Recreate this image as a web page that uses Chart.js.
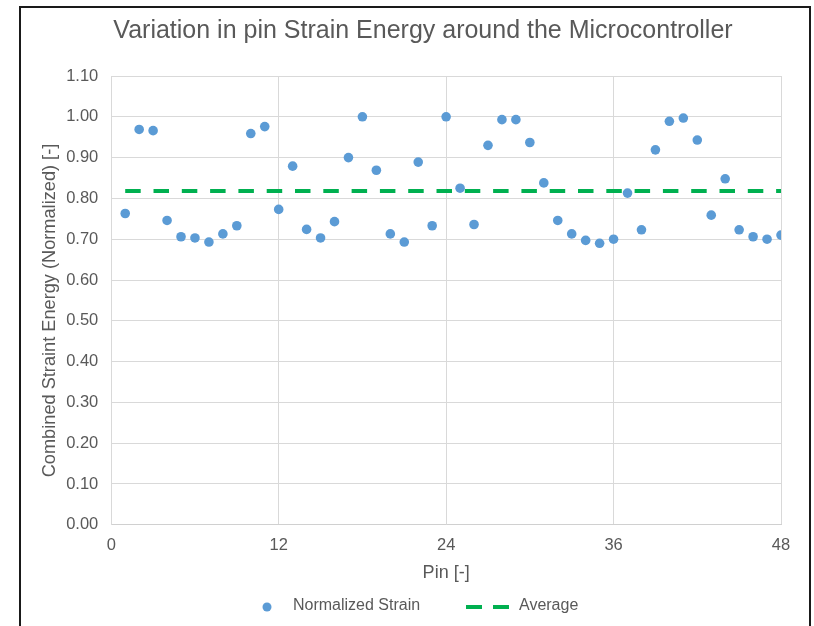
<!DOCTYPE html>
<html>
<head>
<meta charset="utf-8">
<script src="https://cdn.jsdelivr.net/npm/chart.js@4.4.1/dist/chart.umd.min.js"></script>
<style>
  html, body { margin: 0; padding: 0; background: #ffffff; }
  #wrap { position: absolute; left: 0; top: 0; width: 814px; height: 626px; }
</style>
</head>
<body>
<div id="wrap"><canvas id="c" width="814" height="626"></canvas></div>
<script>
// ---- data ----
const pins = [1,2,3,4,5,6,7,8,9,10,11,12,13,14,15,16,17,18,19,20,21,22,23,24,
              25,26,27,28,29,30,31,32,33,34,35,36,37,38,39,40,41,42,43,44,45,46,47,48];
const normalizedStrain = [0.763,0.969,0.966,0.746,0.706,0.703,0.693,0.713,0.733,0.959,0.976,0.773,
                          0.879,0.724,0.703,0.743,0.900,1.000,0.869,0.713,0.693,0.889,0.733,1.000,
                          0.825,0.736,0.930,0.993,0.993,0.937,0.838,0.746,0.713,0.697,0.690,0.700,
                          0.813,0.723,0.919,0.989,0.997,0.943,0.759,0.848,0.723,0.706,0.700,0.710];
const averagePins = [1, 48];
const averageValues = [0.818, 0.818];
const xTickValues = [0, 12, 24, 36, 48];
const yTickValues = [0.00,0.10,0.20,0.30,0.40,0.50,0.60,0.70,0.80,0.90,1.00,1.10];
const seriesNames = ['Normalized Strain', 'Average'];
const chartTitle = 'Variation in pin Strain Energy around the Microcontroller';
const xTitle = 'Pin [-]';
const yTitle = 'Combined Straint Energy (Normalized) [-]';

const FONT = "'Liberation Sans', Arial, sans-serif";
const TXT = '#595959';
const BLUE = '#5B9BD5';
const GREEN = '#00B050';

const framePlugin = {
  id: 'frame',
  afterDraw(chart) {
    const ctx = chart.ctx;
    ctx.save();
    ctx.strokeStyle = '#1a1a1a';
    ctx.lineWidth = 2;
    ctx.strokeRect(20, 7, 790, 700);
    ctx.restore();
  }
};

const legendPlugin = {
  id: 'customLegend',
  afterDraw(chart) {
    const ctx = chart.ctx;
    const ds = chart.data.datasets;
    const y = 607;
    ctx.save();
    ctx.fillStyle = ds[0].pointBackgroundColor;
    ctx.beginPath();
    ctx.arc(267, y, 4.5, 0, Math.PI * 2);
    ctx.fill();
    ctx.font = '16px ' + FONT;
    ctx.fillStyle = TXT;
    ctx.textBaseline = 'middle';
    ctx.textAlign = 'left';
    ctx.fillText(ds[0].label, 293, y - 1);
    ctx.strokeStyle = ds[1].borderColor;
    ctx.lineWidth = 4;
    ctx.setLineDash([16, 11]);
    ctx.beginPath();
    ctx.moveTo(466, y);
    ctx.lineTo(509, y);
    ctx.stroke();
    ctx.setLineDash([]);
    ctx.fillText(ds[1].label, 519, y - 1);
    ctx.restore();
  }
};

new Chart(document.getElementById('c'), {
  type: 'scatter',
  data: {
    datasets: [
      {
        label: seriesNames[0],
        data: pins.map((p, i) => ({ x: p, y: normalizedStrain[i] })),
        pointRadius: 4.8,
        pointHoverRadius: 4.8,
        pointBackgroundColor: BLUE,
        pointBorderColor: BLUE,
        pointBorderWidth: 0,
        showLine: false,
        order: 0
      },
      {
        type: 'line',
        label: seriesNames[1],
        data: averagePins.map((p, i) => ({ x: p, y: averageValues[i] })),
        borderColor: GREEN,
        backgroundColor: GREEN,
        borderWidth: 4,
        borderDash: [15.5, 12.8],
        borderCapStyle: 'butt',
        pointRadius: 0,
        fill: false,
        order: 1
      }
    ]
  },
  options: {
    responsive: false,
    animation: false,
    devicePixelRatio: 1,
    layout: { padding: { left: 65, right: 33, top: 0, bottom: 40.2 } },
    plugins: {
      legend: { display: false },
      tooltip: { enabled: false },
      title: {
        display: true,
        text: chartTitle,
        color: TXT,
        font: { family: FONT, size: 25, weight: 'normal' },
        padding: { top: 16, bottom: 30 }
      }
    },
    scales: {
      x: {
        type: 'linear',
        min: 0,
        max: 48,
        afterBuildTicks: (s) => { s.ticks = xTickValues.map(v => ({ value: v })); },
        ticks: {
          color: TXT,
          font: { family: FONT, size: 16.5 },
          padding: 11.1,
          maxRotation: 0,
          autoSkip: false,
          callback: (v) => String(v)
        },
        grid: { color: '#D9D9D9', lineWidth: 1, drawTicks: false },
        border: { color: '#D0D0D0', width: 1 },
        title: {
          display: true,
          text: xTitle,
          color: TXT,
          font: { family: FONT, size: 18 },
          padding: { top: -4.6, bottom: 2 }
        }
      },
      y: {
        type: 'linear',
        min: 0,
        max: 1.1,
        afterBuildTicks: (s) => { s.ticks = yTickValues.map(v => ({ value: v })); },
        ticks: {
          color: TXT,
          font: { family: FONT, size: 16.5 },
          padding: 13,
          autoSkip: false,
          callback: (v) => Number(v).toFixed(2)
        },
        grid: { color: '#D9D9D9', lineWidth: 1, drawTicks: false },
        border: { color: '#D9D9D9', width: 1 },
        title: {
          display: true,
          text: yTitle + '\u00A0\u00A0\u00A0\u00A0',
          color: TXT,
          font: { family: FONT, size: 18.2 },
          padding: { top: -25.8, bottom: -7.9 }
        }
      }
    }
  },
  plugins: [framePlugin, legendPlugin]
});
</script>
</body>
</html>
